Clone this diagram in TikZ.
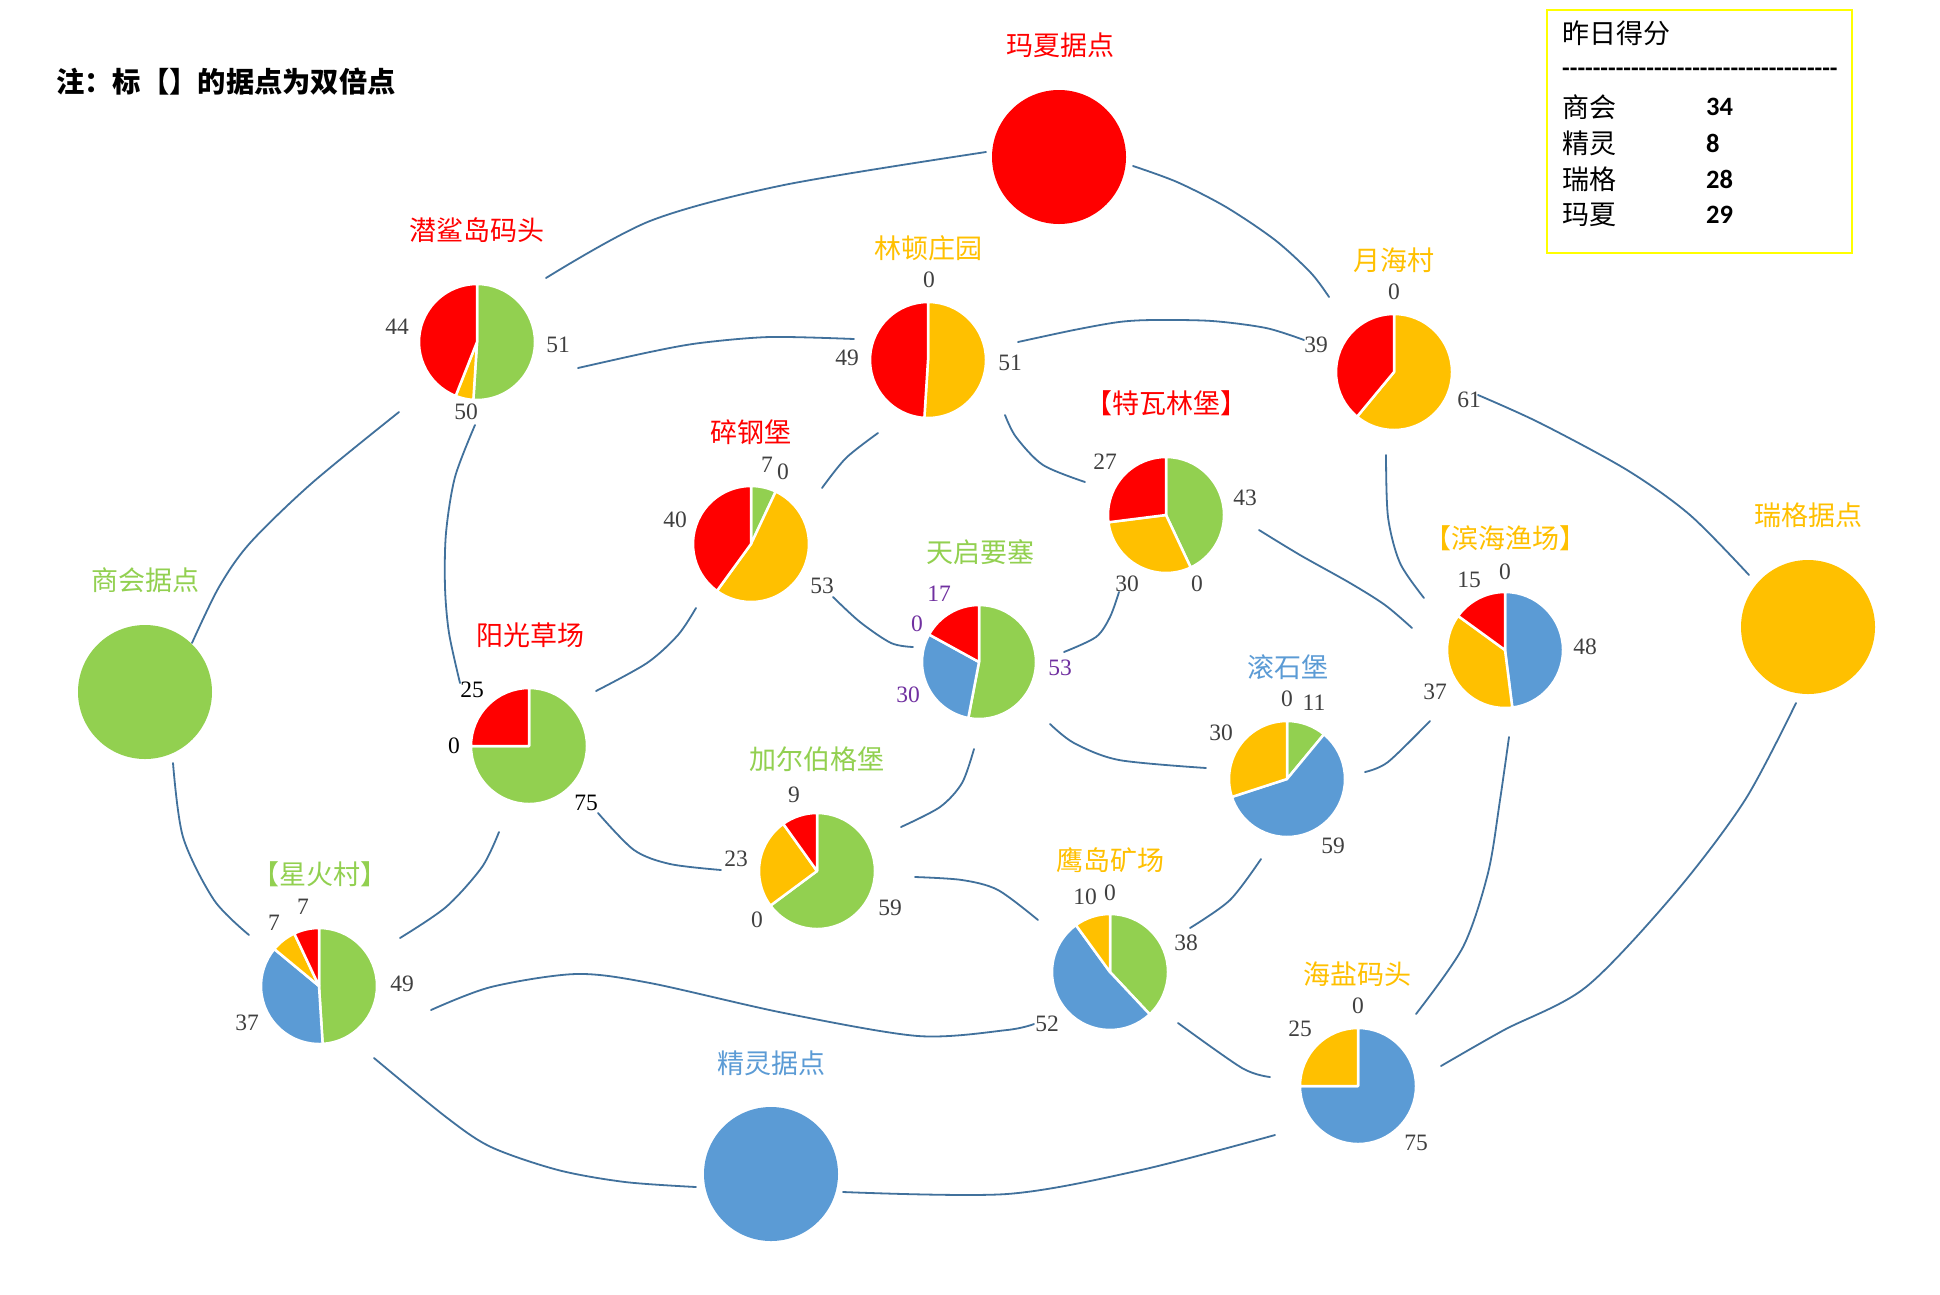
\documentclass[tikz,border=0pt]{standalone}
\usepackage{fontspec}
\setmainfont{Liberation Serif}
\newfontfamily\cjk{Noto Sans CJK SC}
\newfontfamily\carl{Carlito}
\definecolor{cred}{HTML}{FF0000}
\definecolor{cgreen}{HTML}{92D050}
\definecolor{cyel}{HTML}{FFC000}
\definecolor{cblue}{HTML}{5B9BD5}
\definecolor{cline}{HTML}{41719C}
\definecolor{cnum}{HTML}{404040}
\definecolor{cpur}{HTML}{7030A0}
\definecolor{cbox}{HTML}{FFFF00}
\newcommand\pslice[5]{\fill[#5, draw=white, line width=2.5pt, line join=round] (#1) -- ++(#3:#2) arc[start angle=#3, end angle=#4, radius=#2] -- cycle;}
\begin{document}
\begin{tikzpicture}[x=1pt, y=-1pt,
  lbl/.style={font=\cjk\fontsize{27}{30}\selectfont, inner sep=0pt},
  num/.style={font=\fontsize{23.5}{26}\selectfont, text=cnum, inner sep=0pt},
  leg/.style={font=\cjk\fontsize{27}{30}\selectfont, inner sep=0pt, anchor=west},
  legnum/.style={font=\carl\bfseries\fontsize{26.5}{28}\selectfont, inner sep=0pt, anchor=west},
  base/.style={circle, inner sep=0pt, minimum size=134pt},
  conn/.style={draw=cline, line width=1.8pt, line cap=round}]
\fill[white] (0,0) rectangle (1940,1294);
\useasboundingbox (0,0) rectangle (1940,1294);

% ---------- connectors ----------
\coordinate (a1) at (546,278);  \coordinate (b1) at (986,152);
\draw[conn] plot[smooth] coordinates {(a1) (650,221) (784,185) (b1)};
\coordinate (a2) at (578,368);  \coordinate (b2) at (854,339);
\draw[conn] plot[smooth] coordinates {(a2) (650,352) (700,343) (770,337) (b2)};
\coordinate (a3) at (399,412);  \coordinate (b3) at (192,643);
\draw[conn] plot[smooth] coordinates {(a3) (312,483) (250,543) (219,587) (b3)};
\coordinate (a4) at (475,425);  \coordinate (b4) at (460,683);
\draw[conn] plot[smooth] coordinates {(a4) (455,477) (446,533) (445,587) (449,633) (b4)};
\coordinate (a5) at (1133,166); \coordinate (b5) at (1329,297);
\draw[conn] plot[smooth] coordinates {(a5) (1177,182) (1226,207) (1275,240) (1311,273) (b5)};
\coordinate (a6) at (1018,342); \coordinate (b6) at (1304,340);
\draw[conn] plot[smooth] coordinates {(a6) (1074,330) (1119,322) (1154,320) (1212,321) (1266,328) (b6)};
\coordinate (a7) at (878,433);  \coordinate (b7) at (822,488);
\draw[conn] plot[smooth] coordinates {(a7) (846,458) (b7)};
\coordinate (a8) at (1005,415); \coordinate (b8) at (1085,482);
\draw[conn] plot[smooth] coordinates {(a8) (1016,437) (1043,465) (b8)};
\coordinate (a9) at (1478,395); \coordinate (b9) at (1749,575);
\draw[conn] plot[smooth] coordinates {(a9) (1540,423) (1627,470) (1690,515) (b9)};
\coordinate (a10) at (1386,455); \coordinate (b10) at (1424,598);
\draw[conn] plot[smooth] coordinates {(a10) (1388,517) (1400,563) (b10)};
\coordinate (a11) at (1259,530); \coordinate (b11) at (1412,628);
\draw[conn] plot[smooth] coordinates {(a11) (1300,555) (1350,583) (1385,605) (b11)};
\coordinate (a12) at (596,691); \coordinate (b12) at (696,608);
\draw[conn] plot[smooth] coordinates {(a12) (647,663) (678,635) (b12)};
\coordinate (a13) at (833,597); \coordinate (b13) at (913,647);
\draw[conn] plot[smooth] coordinates {(a13) (860,622) (891,643) (b13)};
\coordinate (a14) at (1064,652); \coordinate (b14) at (1119,592);
\draw[conn] plot[smooth] coordinates {(a14) (1096,637) (1110,617) (b14)};
\coordinate (a15) at (1050,724); \coordinate (b15) at (1206,768);
\draw[conn] plot[smooth] coordinates {(a15) (1074,743) (1119,760) (b15)};
\coordinate (a16) at (974,749); \coordinate (b16) at (901,827);
\draw[conn] plot[smooth] coordinates {(a16) (962,783) (940,807) (b16)};
\coordinate (a17) at (1430,721); \coordinate (b17) at (1365,772);
\draw[conn] plot[smooth] coordinates {(a17) (1388,762) (b17)};
\coordinate (a18) at (1509,737); \coordinate (b18) at (1416,1014);
\draw[conn] plot[smooth] coordinates {(a18) (1500,800) (1488,873) (1463,947) (b18)};
\coordinate (a19) at (1796,703); \coordinate (b19) at (1441,1066);
\draw[conn] plot[smooth] coordinates {(a19) (1745,800) (1675,893) (1586,987) (1504,1030) (b19)};
\coordinate (a20) at (173,763); \coordinate (b20) at (249,935);
\draw[conn] plot[smooth] coordinates {(a20) (183,837) (214,900) (b20)};
\coordinate (a21) at (499,832); \coordinate (b21) at (400,938);
\draw[conn] plot[smooth] coordinates {(a21) (482,867) (446,907) (b21)};
\coordinate (a22) at (598,813); \coordinate (b22) at (721,870);
\draw[conn] plot[smooth] coordinates {(a22) (634,850) (670,864) (b22)};
\coordinate (a23) at (915,877); \coordinate (b23) at (1038,920);
\draw[conn] plot[smooth] coordinates {(a23) (962,880) (998,890) (b23)};
\coordinate (a24) at (431,1010); \coordinate (b24) at (1034,1024);
\draw[conn] plot[smooth] coordinates {(a24) (491,987) (576,974) (650,983) (784,1013) (918,1036) (1007,1030) (b24)};
\coordinate (a25) at (374,1058); \coordinate (b25) at (696,1187);
\draw[conn] plot[smooth] coordinates {(a25) (446,1117) (491,1147) (558,1170) (625,1182) (b25)};
\coordinate (a26) at (1261,859); \coordinate (b26) at (1190,928);
\draw[conn] plot[smooth] coordinates {(a26) (1230,900) (b26)};
\coordinate (a27) at (1178,1023); \coordinate (b27) at (1270,1077);
\draw[conn] plot[smooth] coordinates {(a27) (1242,1068) (b27)};
\coordinate (a28) at (843,1192); \coordinate (b28) at (1275,1135);
\draw[conn] plot[smooth] coordinates {(a28) (1007,1194) (1141,1170) (b28)};

% ---------- base circles ----------
\node[base, fill=cred]   (mx) at (1059,157) {};
\node[base, fill=cgreen] (sh) at (145,692) {};
\node[base, fill=cyel]   (rg) at (1808,627) {};
\node[base, fill=cblue]  (jl) at (771,1174) {};

% ---------- pies ----------
\coordinate (qs) at (477,342);
\pslice{qs}{58}{-90}{93.6}{cgreen}\pslice{qs}{58}{93.6}{111.6}{cyel}\pslice{qs}{58}{111.6}{270}{cred}
\coordinate (ld) at (928,360);
\pslice{ld}{58}{-90}{93.6}{cyel}\pslice{ld}{58}{93.6}{270}{cred}
\coordinate (yh) at (1394,372);
\pslice{yh}{58}{-90}{129.6}{cyel}\pslice{yh}{58}{129.6}{270}{cred}
\coordinate (sg) at (751,544);
\pslice{sg}{58}{-90}{-64.8}{cgreen}\pslice{sg}{58}{-64.8}{126}{cyel}\pslice{sg}{58}{126}{270}{cred}
\coordinate (tw) at (1166,515);
\pslice{tw}{58}{-90}{64.8}{cgreen}\pslice{tw}{58}{64.8}{172.8}{cyel}\pslice{tw}{58}{172.8}{270}{cred}
\coordinate (tq) at (979,662);
\pslice{tq}{57}{-90}{100.8}{cgreen}\pslice{tq}{57}{100.8}{208.8}{cblue}\pslice{tq}{57}{208.8}{270}{cred}
\coordinate (bh) at (1505,650);
\pslice{bh}{58}{-90}{82.8}{cblue}\pslice{bh}{58}{82.8}{216}{cyel}\pslice{bh}{58}{216}{270}{cred}
\coordinate (yg) at (529,746);
\pslice{yg}{58}{-90}{180}{cgreen}\pslice{yg}{58}{180}{270}{cred}
\coordinate (gs) at (1287,779);
\pslice{gs}{58}{-90}{-50.4}{cgreen}\pslice{gs}{58}{-50.4}{162}{cblue}\pslice{gs}{58}{162}{270}{cyel}
\coordinate (je) at (817,871);
\pslice{je}{58}{-90}{143.4}{cgreen}\pslice{je}{58}{143.4}{234.4}{cyel}\pslice{je}{58}{234.4}{270}{cred}
\coordinate (xh) at (319,986);
\pslice{xh}{58}{-90}{86.4}{cgreen}\pslice{xh}{58}{86.4}{219.6}{cblue}\pslice{xh}{58}{219.6}{244.8}{cyel}\pslice{xh}{58}{244.8}{270}{cred}
\coordinate (yd) at (1110,972);
\pslice{yd}{58}{-90}{46.8}{cgreen}\pslice{yd}{58}{46.8}{234}{cblue}\pslice{yd}{58}{234}{270}{cyel}
\coordinate (hy) at (1358,1086);
\pslice{hy}{58}{-90}{180}{cblue}\pslice{hy}{58}{180}{270}{cyel}

% ---------- labels ----------
\node[lbl, text=cred]   (mxL) at (1060,45)  {玛夏据点};
\node[lbl, text=cred]   (qsL) at (477,230)  {潜鲨岛码头};
\node[lbl, text=cyel]   (ldL) at (928,248)  {林顿庄园};
\node[lbl, text=cyel]   (yhL) at (1394,260) {月海村};
\node[lbl, text=cred]   (twL) at (1166,403) {【特瓦林堡】};
\node[lbl, text=cred]   (sgL) at (751,432)  {碎钢堡};
\node[lbl, text=cyel]   (rgL) at (1808,515) {瑞格据点};
\node[lbl, text=cyel]   (bhL) at (1505,538) {【滨海渔场】};
\node[lbl, text=cgreen] (tqL) at (980,552)  {天启要塞};
\node[lbl, text=cgreen] (shL) at (145,580)  {商会据点};
\node[lbl, text=cred]   (ygL) at (530,635)  {阳光草场};
\node[lbl, text=cblue]  (gsL) at (1288,667) {滚石堡};
\node[lbl, text=cgreen] (jeL) at (817,759)  {加尔伯格堡};
\node[lbl, text=cyel]   (ydL) at (1110,860) {鹰岛矿场};
\node[lbl, text=cgreen] (xhL) at (320,874)  {【星火村】};
\node[lbl, text=cyel]   (hyL) at (1357,974) {海盐码头};
\node[lbl, text=cblue]  (jlL) at (771,1063) {精灵据点};

% ---------- numbers ----------
\node[num] (n1) at (397,327) {44};  \node[num] (n2) at (558,345) {51};  \node[num] (n3) at (466,412) {50};
\node[num] (n4) at (929,280) {0};   \node[num] (n5) at (847,358) {49};  \node[num] (n6) at (1010,363) {51};
\node[num] (n7) at (1394,292) {0};  \node[num] (n8) at (1316,345) {39}; \node[num] (n9) at (1469,400) {61};
\node[num] (n10) at (767,465) {7};  \node[num] (n11) at (783,472) {0};  \node[num] (n12) at (675,520) {40}; \node[num] (n13) at (822,586) {53};
\node[num] (n14) at (1105,462) {27}; \node[num] (n15) at (1245,498) {43}; \node[num] (n16) at (1127,584) {30}; \node[num] (n17) at (1197,584) {0};
\node[num, text=cpur] (n18) at (939,594) {17}; \node[num, text=cpur] (n19) at (917,624) {0};
\node[num, text=cpur] (n20) at (908,695) {30}; \node[num, text=cpur] (n21) at (1060,668) {53};
\node[num] (n22) at (1469,580) {15}; \node[num] (n23) at (1505,572) {0}; \node[num] (n24) at (1585,647) {48}; \node[num] (n25) at (1435,692) {37};
\node[num, text=black] (n26) at (472,690) {25}; \node[num, text=black] (n27) at (454,746) {0}; \node[num, text=black] (n28) at (586,803) {75};
\node[num] (n29) at (1287,699) {0}; \node[num] (n30) at (1314,703) {11}; \node[num] (n31) at (1221,733) {30}; \node[num] (n32) at (1333,846) {59};
\node[num] (n33) at (794,795) {9}; \node[num] (n34) at (736,859) {23}; \node[num] (n35) at (757,920) {0}; \node[num] (n36) at (890,908) {59};
\node[num] (n37) at (303,907) {7}; \node[num] (n38) at (274,923) {7}; \node[num] (n39) at (402,984) {49}; \node[num] (n40) at (247,1023) {37};
\node[num] (n41) at (1085,897) {10}; \node[num] (n42) at (1110,893) {0}; \node[num] (n43) at (1186,943) {38}; \node[num] (n44) at (1047,1024) {52};
\node[num] (n45) at (1358,1006) {0}; \node[num] (n46) at (1300,1029) {25}; \node[num] (n47) at (1416,1143) {75};

% ---------- note ----------
\node[font=\cjk\bfseries\fontsize{28.3}{31}\selectfont, inner sep=0pt, anchor=west] (note) at (56,82) {注：标【】的据点为双倍点};

% ---------- legend ----------
\draw[cbox, line width=2pt] (1547,10) rectangle (1852,253);
\node[leg] (lgT) at (1562,33) {昨日得分};
\node[legnum, font=\carl\bfseries\fontsize{25}{28}\selectfont] (lgD) at (1562,72) {------------------------------------};
\node[leg] (lg1) at (1562,107) {商会}; \node[legnum] (lv1) at (1706,107) {34};
\node[leg] (lg2) at (1562,143) {精灵}; \node[legnum] (lv2) at (1706,143) {8};
\node[leg] (lg3) at (1562,179) {瑞格}; \node[legnum] (lv3) at (1706,179) {28};
\node[leg] (lg4) at (1562,215) {玛夏}; \node[legnum] (lv4) at (1706,215) {29};
\end{tikzpicture}
\end{document}
